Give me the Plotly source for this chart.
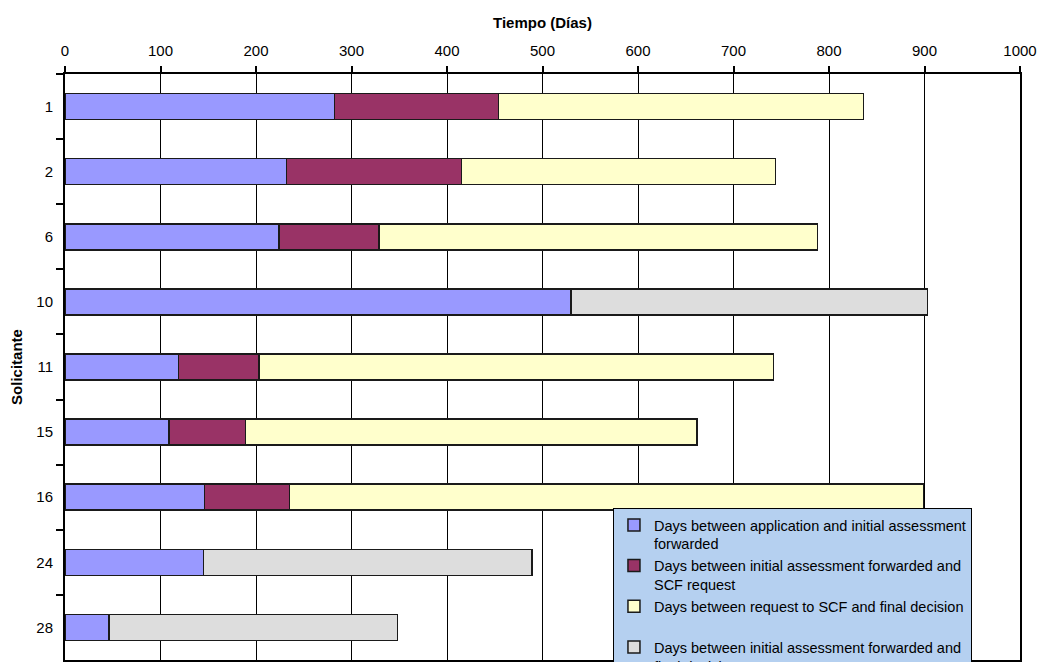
import plotly.graph_objects as go

# Applicants (Solicitante) in display order, top to bottom
solicitantes = ["1", "2", "6", "10", "11", "15", "16", "24", "28"]

# Days for each stage of the procedure
dias_solicitud_evaluacion = [282, 232, 224, 530, 119, 109, 146, 145, 46]
dias_evaluacion_scf = [172, 183, 105, None, 84, 80, 89, None, None]
dias_scf_decision = [382, 329, 459, None, 539, 473, 664, None, None]
dias_evaluacion_decision = [None, None, None, 373, None, None, None, 344, 302]

series = [
    ("Days between application and initial assessment<br>forwarded",
     dias_solicitud_evaluacion, "#9999FF"),
    ("Days between initial assessment forwarded and<br>SCF request",
     dias_evaluacion_scf, "#993366"),
    ("Days between request to SCF and final decision<br>&nbsp;",
     dias_scf_decision, "#FFFFCC"),
    ("Days between initial assessment forwarded and<br>final decision",
     dias_evaluacion_decision, "#DDDDDD"),
]

FONT = "Arial, 'Liberation Sans', sans-serif"

fig = go.Figure()
for nombre, valores, color in series:
    fig.add_trace(go.Bar(
        y=solicitantes,
        x=valores,
        name=nombre,
        orientation="h",
        width=0.4,
        marker=dict(color=color, line=dict(color="#1a1a1a", width=1.5)),
    ))

fig.update_layout(
    width=1041,
    height=662,
    margin=dict(l=65, r=21, t=74, b=2, autoexpand=False),
    barmode="stack",
    plot_bgcolor="white",
    paper_bgcolor="white",
    font=dict(family=FONT, size=15, color="black"),
    legend=dict(
        x=0.9497, y=0.2594, xanchor="right", yanchor="top",
        bgcolor="#B5D0F0", bordercolor="black", borderwidth=1,
        font=dict(family=FONT, size=14.5, color="black"),
        traceorder="normal", valign="top",
    ),
    xaxis=dict(
        side="top",
        range=[0, 1000],
        tick0=0, dtick=100,
        showgrid=True, gridcolor="black", gridwidth=1,
        ticks="outside", ticklen=6, tickwidth=1.5, tickcolor="black",
        ticklabelstandoff=4,
        showline=True, linecolor="black", linewidth=2, mirror=True,
        zeroline=False,
        tickfont=dict(family=FONT, size=15),
        title=dict(text="Tiempo (Días)", standoff=10,
                   font=dict(family=FONT, size=15, weight="bold")),
    ),
    yaxis=dict(
        type="category",
        categoryorder="array", categoryarray=solicitantes,
        autorange="reversed",
        showgrid=False,
        ticks="outside", ticklen=7, tickwidth=1.5, tickcolor="black",
        tickson="boundaries",
        ticklabelstandoff=7,
        showline=True, linecolor="black", linewidth=2, mirror=True,
        zeroline=False,
        tickfont=dict(family=FONT, size=15),
        title=dict(text="Solicitante", standoff=10,
                   font=dict(family=FONT, size=15, weight="bold")),
    ),
)

fig.write_html("out.html")
